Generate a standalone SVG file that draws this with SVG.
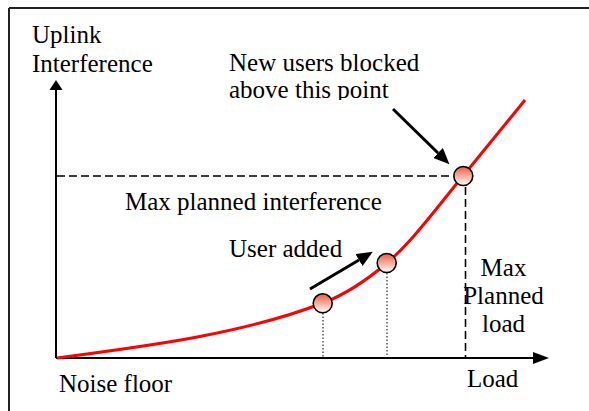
<svg xmlns="http://www.w3.org/2000/svg" width="589" height="411" viewBox="0 0 589 411">
<style>
text{font-family:"Liberation Serif","Times New Roman","DejaVu Serif",serif;font-size:25px;fill:#000}
.frame{stroke:#222;stroke-width:2;fill:none}
.axis{stroke:#000;stroke-width:2;fill:none}
.dash{stroke:#000;stroke-width:1.6;stroke-dasharray:8 4;fill:none}
.dot{stroke:#000;stroke-width:1;stroke-dasharray:1.5 2;fill:none}
.curve{stroke:#ff0000;stroke-width:3;fill:none}
.ptr{stroke:#000;stroke-width:3;fill:none}
.pt{fill:url(#g);stroke:#000;stroke-width:1.6}
</style>
<defs>
<linearGradient id="g" x1="0" y1="0" x2="0" y2="1">
<stop offset="0" stop-color="#f05a3c"/>
<stop offset="1" stop-color="#ffffff"/>
</linearGradient>
<marker id="ah" markerUnits="userSpaceOnUse" markerWidth="16" markerHeight="14" refX="0" refY="7" orient="auto">
<path d="M0,0 L16,7 L0,14 z" fill="#000"/>
</marker>
<clipPath id="clipTop"><rect x="0" y="0" width="589" height="100"/></clipPath>
</defs>
<g id="frame">
<line class="frame" x1="9" y1="8" x2="589" y2="8"/>
<line class="frame" x1="9" y1="8" x2="9" y2="411"/>
</g>
<g id="axes">
<line class="axis" x1="56" y1="358" x2="56" y2="89"/>
<polygon points="56,80 62.5,90 49.5,90" fill="#000"/>
<line class="axis" x1="56" y1="358" x2="535" y2="358"/>
<polygon points="549,358 533,352 533,364" fill="#000"/>
</g>
<g id="connectors">
<line class="dash" x1="57" y1="176" x2="453" y2="176"/>
<line class="dash" x1="465.5" y1="187" x2="465.5" y2="357"/>
<line class="dot" x1="323" y1="313" x2="323" y2="357"/>
<line class="dot" x1="387" y1="273" x2="387" y2="357"/>
<path id="curve" class="curve" d="M57,358 C140,347 240,335 323,303 C344.3,294.8 365.7,281.1 387,263 C412.3,241.5 437.7,206.4 463,176 L525,100"/>
<line class="ptr" x1="310" y1="289" x2="359" y2="260" marker-end="url(#ah)"/>
<line class="ptr" x1="393" y1="109" x2="438" y2="153" marker-end="url(#ah)"/>
</g>
<g id="point-1"><circle class="pt" cx="322.7" cy="303.3" r="9.5"/></g>
<g id="point-2"><circle class="pt" cx="386.7" cy="263" r="9.5"/></g>
<g id="point-3"><circle class="pt" cx="463.3" cy="176" r="9.5"/></g>
<g id="labels" font-family="'Liberation Serif', 'Times New Roman', serif">
<text x="32" y="43">Uplink</text>
<text x="32" y="72">Interference</text>
<text x="229" y="71">New users blocked</text>
<text x="229" y="97.5" clip-path="url(#clipTop)">above this point</text>
<text x="125" y="210">Max planned interference</text>
<text x="229" y="257">User added</text>
<text x="503.5" y="276" text-anchor="middle">Max</text>
<text x="503.5" y="304" text-anchor="middle">Planned</text>
<text x="503.5" y="332" text-anchor="middle">load</text>
<text x="59" y="391.5">Noise floor</text>
<text x="467" y="387">Load</text>
</g>
</svg>
